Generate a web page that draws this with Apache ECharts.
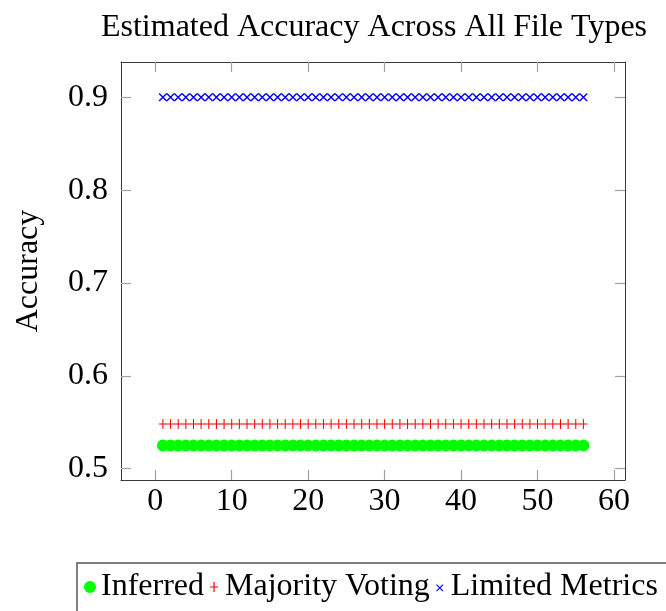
<!DOCTYPE html>
<html>
<head>
<meta charset="utf-8">
<script src="https://cdn.jsdelivr.net/npm/echarts@6/dist/echarts.min.js"></script>
<style>
  html, body { margin: 0; padding: 0; background: #fff; }
  #chart { width: 666px; height: 611px; }
</style>
</head>
<body>
<div id="chart"></div>
<script>
// File index (x) and estimated accuracy of each method per file
const fileIndex = [1, 2, 3, 4, 5, 6, 7, 8, 9, 10, 11, 12, 13, 14, 15, 16, 17, 18, 19, 20,
  21, 22, 23, 24, 25, 26, 27, 28, 29, 30, 31, 32, 33, 34, 35, 36, 37, 38, 39, 40,
  41, 42, 43, 44, 45, 46, 47, 48, 49, 50, 51, 52, 53, 54, 55, 56];
const inferred = [0.525, 0.525, 0.525, 0.525, 0.525, 0.525, 0.525, 0.525, 0.525, 0.525,
  0.525, 0.525, 0.525, 0.525, 0.525, 0.525, 0.525, 0.525, 0.525, 0.525,
  0.525, 0.525, 0.525, 0.525, 0.525, 0.525, 0.525, 0.525, 0.525, 0.525,
  0.525, 0.525, 0.525, 0.525, 0.525, 0.525, 0.525, 0.525, 0.525, 0.525,
  0.525, 0.525, 0.525, 0.525, 0.525, 0.525, 0.525, 0.525, 0.525, 0.525,
  0.525, 0.525, 0.525, 0.525, 0.525, 0.525];
const majorityVoting = [0.548, 0.548, 0.548, 0.548, 0.548, 0.548, 0.548, 0.548, 0.548, 0.548,
  0.548, 0.548, 0.548, 0.548, 0.548, 0.548, 0.548, 0.548, 0.548, 0.548,
  0.548, 0.548, 0.548, 0.548, 0.548, 0.548, 0.548, 0.548, 0.548, 0.548,
  0.548, 0.548, 0.548, 0.548, 0.548, 0.548, 0.548, 0.548, 0.548, 0.548,
  0.548, 0.548, 0.548, 0.548, 0.548, 0.548, 0.548, 0.548, 0.548, 0.548,
  0.548, 0.548, 0.548, 0.548, 0.548, 0.548];
const limitedMetrics = [0.9, 0.9, 0.9, 0.9, 0.9, 0.9, 0.9, 0.9, 0.9, 0.9,
  0.9, 0.9, 0.9, 0.9, 0.9, 0.9, 0.9, 0.9, 0.9, 0.9,
  0.9, 0.9, 0.9, 0.9, 0.9, 0.9, 0.9, 0.9, 0.9, 0.9,
  0.9, 0.9, 0.9, 0.9, 0.9, 0.9, 0.9, 0.9, 0.9, 0.9,
  0.9, 0.9, 0.9, 0.9, 0.9, 0.9, 0.9, 0.9, 0.9, 0.9,
  0.9, 0.9, 0.9, 0.9, 0.9, 0.9];

const seriesNames = ['Inferred', 'Majority Voting', 'Limited Metrics'];
const seriesColors = ['#00ff00', '#ff0000', '#0000ff'];
const xTicks = [0, 10, 20, 30, 40, 50, 60];
const yTicks = [0.5, 0.6, 0.7, 0.8, 0.9];

const FONT = '"Liberation Serif", "Times New Roman", serif';
const PLUS = 'path://M0,4.5 H8 V5.5 H0 Z M3.5,0 H4.5 V10 H3.5 Z';
const CROSS = 'path://M0,0 L1,0 L8,7 L8,8 L7,8 L0,1 Z M7,0 L8,0 L8,1 L1,8 L0,8 L0,7 Z';
// legend glyphs: same shapes, with empty corner points so they sit smaller in the icon box
const PLUS_ICON = 'path://M0,0 L0,0 Z M12,12 L12,12 Z M2,5.4 H10 V6.6 H2 Z M5.4,1 H6.6 V11 H5.4 Z';
const CROSS_ICON = 'path://M-2,-2 L-2,-2 Z M12,12 L12,12 Z M1,2 L2,2 L9,9 L9,10 L8,10 L1,3 Z M8,2 L9,2 L9,3 L2,10 L1,10 L1,9 Z';

function pairs(xs, ys) {
  return xs.map((x, i) => [x, ys[i]]);
}

const frame = { show: true, onZero: false, lineStyle: { color: '#3a3a3a', width: 1 } };
const ticks = (vals) => ({ show: true, inside: true, length: 10, customValues: vals,
  lineStyle: { color: '#a0a0a0', width: 1.2 } });
const iconStyle = (c) => ({ color: c, borderWidth: 0, borderColor: c });

const chart = echarts.init(document.getElementById('chart'), null, { renderer: 'canvas' });
chart.setOption({
  animation: false,
  backgroundColor: '#ffffff',
  title: {
    text: 'Estimated Accuracy Across All File Types',
    left: 369, top: 7, textAlign: 'center',
    textStyle: { fontFamily: FONT, fontWeight: 'normal', fontSize: 32, color: '#000' }
  },
  grid: { left: 121, right: 41, top: 62, bottom: 131 },
  xAxis: [
    {
      type: 'value', position: 'bottom', min: -4.48, max: 61.44,
      axisLine: frame, axisTick: ticks(xTicks), splitLine: { show: false },
      axisLabel: { customValues: xTicks, margin: 6, fontFamily: FONT, fontSize: 32, color: '#000' }
    },
    {
      type: 'value', position: 'top', min: -4.48, max: 61.44,
      axisLine: frame, axisTick: ticks(xTicks), splitLine: { show: false },
      axisLabel: { show: false }
    }
  ],
  yAxis: [
    {
      type: 'value', position: 'left', min: 0.4878, max: 0.938,
      name: 'Accuracy', nameLocation: 'middle', nameGap: 76, nameRotate: 90,
      nameTextStyle: { fontFamily: FONT, fontSize: 32, color: '#000' },
      axisLine: frame, axisTick: ticks(yTicks), splitLine: { show: false },
      axisLabel: { customValues: yTicks, margin: 13, fontFamily: FONT, fontSize: 32, color: '#000',
        formatter: (v) => v.toFixed(1) }
    },
    {
      type: 'value', position: 'right', min: 0.4878, max: 0.938,
      axisLine: frame, axisTick: ticks(yTicks), splitLine: { show: false },
      axisLabel: { show: false }
    }
  ],
  legend: {
    left: 77, top: 563, width: 640, orient: 'horizontal',
    itemGap: 4, itemWidth: 12, itemHeight: 12,
    padding: [8, 24, 10, 7],
    borderColor: '#555', borderWidth: 1.5,
    textStyle: { fontFamily: FONT, fontSize: 32, color: '#000' },
    data: [
      { name: seriesNames[0], icon: 'circle', itemStyle: iconStyle(seriesColors[0]) },
      { name: seriesNames[1], icon: PLUS_ICON, itemStyle: iconStyle(seriesColors[1]) },
      { name: seriesNames[2], icon: CROSS_ICON, itemStyle: iconStyle(seriesColors[2]) }
    ]
  },
  series: [
    {
      name: seriesNames[0], type: 'scatter', symbol: 'circle', symbolSize: 12,
      itemStyle: { color: seriesColors[0], opacity: 1 },
      data: pairs(fileIndex, inferred)
    },
    {
      name: seriesNames[1], type: 'scatter', symbol: PLUS, symbolSize: [8, 10],
      itemStyle: { color: seriesColors[1], opacity: 1 },
      data: pairs(fileIndex, majorityVoting)
    },
    {
      name: seriesNames[2], type: 'scatter', symbol: CROSS, symbolSize: [8, 8],
      itemStyle: { color: seriesColors[2], opacity: 1 },
      data: pairs(fileIndex, limitedMetrics)
    }
  ]
});
</script>
</body>
</html>
